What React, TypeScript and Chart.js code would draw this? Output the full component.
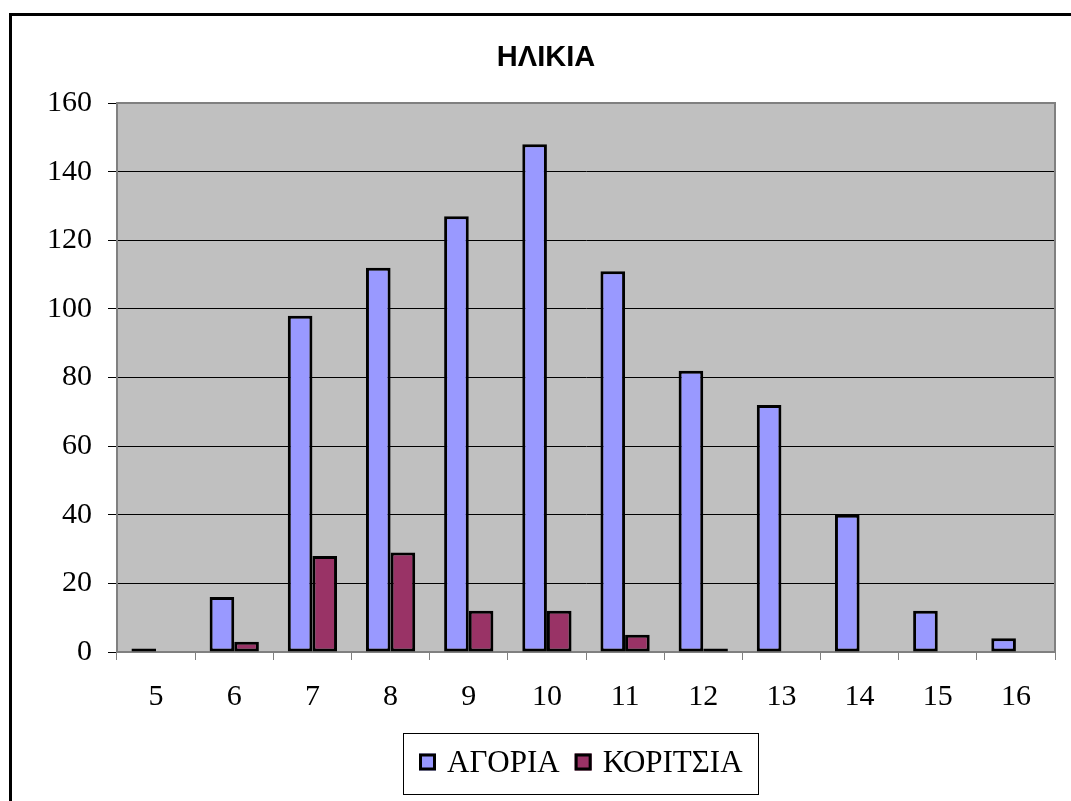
import React, { useEffect, useRef } from 'react';
import { Chart, registerables } from 'chart.js';

Chart.register(...registerables);

const TITLE = 'ΗΛΙΚΙΑ';
const AGES = ['5', '6', '7', '8', '9', '10', '11', '12', '13', '14', '15', '16'];
const BOYS = [1, 16, 98, 112, 127, 148, 111, 82, 72, 40, 12, 4];
const GIRLS = [0, 3, 28, 29, 12, 12, 5, 1, 0, 0, 0, 0];
const SERIES_NAMES = ['ΑΓΟΡΙΑ', 'ΚΟΡΙΤΣΙΑ'];
const SERIES_COLORS = ['#9999FF', '#993366'];
const Y_MIN = 0;
const Y_MAX = 160;
const Y_STEP = 20;

const W = 1071;
const H = 801;
const SERIF = '"Liberation Serif", "Times New Roman", serif';
const SANS = '"Liberation Sans", Arial, sans-serif';

const decor = {
  id: 'decor',
  beforeDraw(chart: any) {
    const { ctx, chartArea: a } = chart;
    ctx.save();
    ctx.fillStyle = '#ffffff';
    ctx.fillRect(0, 0, W, H);
    ctx.strokeStyle = '#000000';
    ctx.lineWidth = 3;
    ctx.strokeRect(10.5, 14.5, W + 40, H + 40);
    ctx.fillStyle = '#C0C0C0';
    ctx.fillRect(a.left, a.top, a.right - a.left, a.bottom - a.top);
    ctx.restore();
  },
  beforeDatasetsDraw(chart: any) {
    const { ctx, chartArea: a } = chart;
    ctx.save();
    ctx.strokeStyle = '#808080';
    ctx.lineWidth = 2;
    ctx.strokeRect(a.left, a.top, a.right - a.left, a.bottom - a.top);
    ctx.restore();
  },
  afterDraw(chart: any) {
    const { ctx } = chart;
    ctx.save();
    // title
    ctx.fillStyle = '#000';
    ctx.font = `bold 29px ${SANS}`;
    ctx.textAlign = 'center';
    ctx.textBaseline = 'alphabetic';
    ctx.fillText(TITLE, 546, 66);

    // legend
    const boxL = 403, boxT = 733, boxR = 758, boxB = 794;
    ctx.strokeStyle = '#000';
    ctx.lineWidth = 1;
    ctx.strokeRect(boxL + 0.5, boxT + 0.5, boxR - boxL, boxB - boxT);
    ctx.font = `31px ${SERIF}`;
    ctx.textAlign = 'left';
    const sq = 17, gapText = 11, gapItem = 15;
    const items = chart.data.datasets.map((d: any) => ({
      label: d.label,
      color: d.backgroundColor,
      w: ctx.measureText(d.label).width,
    }));
    let total = 0;
    items.forEach((it: any, i: number) => {
      total += sq + gapText + it.w + (i < items.length - 1 ? gapItem : 0);
    });
    let x = Math.round((boxL + boxR) / 2 - total / 2);
    const cy = 762;
    items.forEach((it: any) => {
      ctx.fillStyle = it.color;
      ctx.fillRect(x, cy - sq / 2, sq, sq);
      ctx.lineWidth = 3;
      ctx.strokeStyle = '#000';
      ctx.strokeRect(x + 1.5, cy - sq / 2 + 1.5, sq - 3, sq - 3);
      x += sq + gapText;
      ctx.fillStyle = '#000';
      ctx.fillText(it.label, x, 772);
      x += it.w + gapItem;
    });
    ctx.restore();
  },
};

export default function App() {
  const ref = useRef<HTMLCanvasElement>(null);

  useEffect(() => {
    document.body.style.margin = '0';
    const canvas = ref.current;
    if (!canvas) return;
    const chart = new Chart(canvas, {
      type: 'bar',
      data: {
        labels: AGES,
        datasets: [
          {
            label: SERIES_NAMES[0],
            data: BOYS,
            backgroundColor: SERIES_COLORS[0],
            borderColor: '#000000',
            borderWidth: 3,
            borderSkipped: false,
            barPercentage: 1,
            categoryPercentage: 0.63,
          },
          {
            label: SERIES_NAMES[1],
            data: GIRLS,
            backgroundColor: SERIES_COLORS[1],
            borderColor: '#000000',
            borderWidth: 3,
            borderSkipped: false,
            barPercentage: 1,
            categoryPercentage: 0.63,
          },
        ],
      },
      options: {
        responsive: false,
        animation: false,
        devicePixelRatio: 1,
        layout: { padding: { left: 0, top: 103, right: 16, bottom: 89 } },
        plugins: {
          legend: { display: false },
          title: { display: false },
          tooltip: { enabled: false },
        },
        scales: {
          x: {
            grid: {
              offset: true,
              drawOnChartArea: false,
              drawTicks: true,
              tickLength: 8,
              color: '#808080',
              lineWidth: 1,
            },
            border: { display: true, color: '#808080', width: 2 },
            ticks: {
              font: { family: SERIF, size: 30 },
              color: '#000',
              padding: 19,
              maxRotation: 0,
              autoSkip: false,
            },
            afterFit: (s: any) => {
              s.height = 60;
            },
          },
          y: {
            min: Y_MIN,
            max: Y_MAX,
            ticks: {
              stepSize: Y_STEP,
              font: { family: SERIF, size: 30 },
              color: '#000',
              padding: 16,
            },
            grid: {
              color: '#000000',
              lineWidth: 1,
              drawTicks: true,
              tickLength: 9,
            },
            border: { display: true, color: '#808080', width: 2 },
            afterFit: (s: any) => {
              s.width = 117;
            },
          },
        },
      },
      plugins: [decor],
    });
    return () => chart.destroy();
  }, []);

  return (
    <div style={{ position: 'absolute', left: 0, top: 0, width: W, height: H }}>
      <canvas ref={ref} width={W} height={H} style={{ display: 'block' }} />
    </div>
  );
}
